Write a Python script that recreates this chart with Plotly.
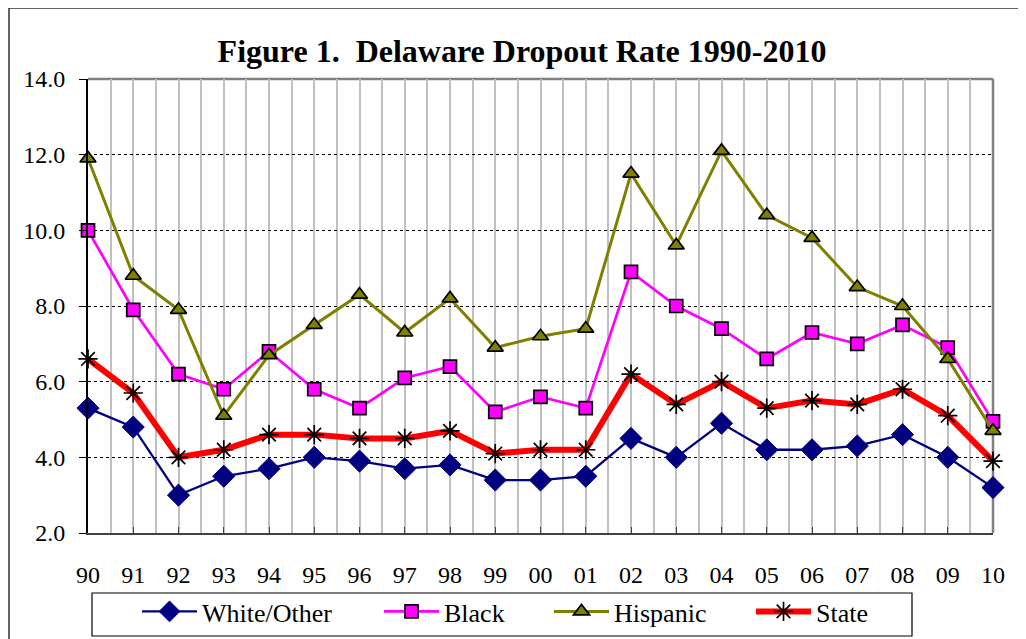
import plotly.graph_objects as go

years = ["90", "91", "92", "93", "94", "95", "96", "97", "98", "99", "00",
         "01", "02", "03", "04", "05", "06", "07", "08", "09", "10"]
white_other = [5.3, 4.8, 3.0, 3.5, 3.7, 4.0, 3.9, 3.7, 3.8, 3.4, 3.4,
               3.5, 4.5, 4.0, 4.9, 4.2, 4.2, 4.3, 4.6, 4.0, 3.2]
black = [10.0, 7.9, 6.2, 5.8, 6.8, 5.8, 5.3, 6.1, 6.4, 5.2, 5.6,
         5.3, 8.9, 8.0, 7.4, 6.6, 7.3, 7.0, 7.5, 6.9, 4.95]
hispanic = [11.9, 8.8, 7.9, 5.1, 6.7, 7.5, 8.3, 7.3, 8.2, 6.9, 7.2,
            7.4, 11.5, 9.6, 12.1, 10.4, 9.8, 8.5, 8.0, 6.6, 4.7]
state = [6.6, 5.7, 4.0, 4.2, 4.6, 4.6, 4.5, 4.5, 4.7, 4.1, 4.2,
         4.2, 6.2, 5.4, 6.0, 5.3, 5.5, 5.4, 5.8, 5.1, 3.9]
y_ticks = [2.0, 4.0, 6.0, 8.0, 10.0, 12.0, 14.0]

xs = list(range(len(years)))
FONT = '"Liberation Serif", "Times New Roman", serif'

# the page body adds an 8px margin; work in page coordinates and shift
OFF = 8
W, H = 1026 - OFF, 639 - OFF
ML, MR, MT, MB = 88 - OFF, 1026 - 993, 79 - OFF, 639 - 533
PW, PH = W - ML - MR, H - MT - MB


def px(p):
    return (p - OFF - ML) / PW


def py(p):
    return (MT + PH - (p - OFF)) / PH


fig = go.Figure()
fig.add_trace(go.Scatter(
    x=xs, y=white_other, name="White/Other", mode="lines+markers",
    line=dict(color="#000080", width=2.3), legendwidth=172, cliponaxis=False,
    marker=dict(symbol="diamond", size=17, color="#000080",
                line=dict(color="#000080", width=1))))
fig.add_trace(go.Scatter(
    x=xs, y=black, name="Black", mode="lines+markers",
    line=dict(color="#ff00ff", width=2.7), legendwidth=100, cliponaxis=False,
    marker=dict(symbol="square", size=13, color="#ff00ff",
                line=dict(color="#000000", width=1.7))))
fig.add_trace(go.Scatter(
    x=xs, y=hispanic, name="Hispanic", mode="lines+markers",
    line=dict(color="#808000", width=3), legendwidth=132, cliponaxis=False,
    marker=dict(symbol="triangle-up", size=14, color="#808000",
                line=dict(color="#000000", width=1.7))))
fig.add_trace(go.Scatter(
    x=xs, y=state, name="State", mode="lines+markers",
    line=dict(color="#ff0000", width=6), legendwidth=60, cliponaxis=False,
    marker=dict(symbol="asterisk-open", size=16, color="#000000",
                line=dict(color="#000000", width=1.7))))

fig.update_layout(
    width=W, height=H,
    margin=dict(l=ML, r=MR, t=MT, b=MB, autoexpand=False),
    paper_bgcolor="white", plot_bgcolor="white",
    font=dict(family=FONT, color="black", size=24),
    title=dict(text="<b>Figure 1.  Delaware Dropout Rate 1990-2010</b>",
               font=dict(family=FONT, size=32, color="black"),
               x=(522 - OFF) / W, xref="container", xanchor="center",
               y=1 - (51 - OFF) / H, yref="container", yanchor="middle"),
    showlegend=True,
    legend=dict(orientation="h", x=(137 - OFF) / W, xref="container", xanchor="left",
                y=1 - (588 - OFF) / H, yref="container", yanchor="top",
                borderwidth=0, bgcolor="rgba(0,0,0,0)",
                font=dict(family=FONT, size=26, color="black"),
                itemwidth=55, traceorder="normal"),
)
fig.update_xaxes(
    range=[0, len(years) - 1], tickmode="array", tickvals=xs, ticktext=years,
    showgrid=True, gridcolor="#c0c0c0", gridwidth=2,
    minor=dict(dtick=0.5, tick0=0, showgrid=True, gridcolor="#c0c0c0", gridwidth=2),
    ticks="inside", ticklen=6, tickwidth=1, tickcolor="#404040",
    showline=True, linecolor="#404040", linewidth=2,
    ticklabelstandoff=19, tickfont=dict(size=24, family=FONT),
    zeroline=False, fixedrange=True, automargin=False)
fig.update_yaxes(
    range=[2, 14], tickmode="array", tickvals=y_ticks, tickformat=".1f",
    showgrid=True, gridcolor="black", gridwidth=1, griddash="dot",
    ticks="outside", ticklen=7, tickwidth=1, tickcolor="black",
    showline=True, linecolor="black", linewidth=2, ticklabelstandoff=9,
    tickfont=dict(size=24, family=FONT), zeroline=False, fixedrange=True,
    automargin=False)

# plot area top and right borders
fig.add_shape(type="line", xref="paper", yref="paper", x0=0, x1=1, y0=1, y1=1,
              line=dict(color="#808080", width=2.5), layer="below")
fig.add_shape(type="line", xref="paper", yref="paper", x0=1, x1=1, y0=0, y1=1,
              line=dict(color="#808080", width=2.5), layer="below")
# outer chart frame
fig.add_shape(type="rect", xref="paper", yref="paper",
              x0=px(9), x1=px(1045), y0=py(660), y1=py(8),
              line=dict(color="#303030", width=1.5), layer="below")
# legend frame
fig.add_shape(type="rect", xref="paper", yref="paper",
              x0=px(92), x1=px(912), y0=py(636), y1=py(593),
              line=dict(color="black", width=1.2), layer="below")

fig.write_html("out.html")
